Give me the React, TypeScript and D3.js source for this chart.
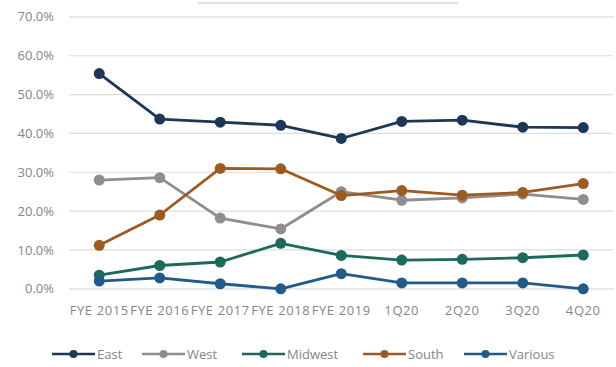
import React from "react";
import * as d3 from "d3";

// Periods on the x axis
const categories = [
  "FYE 2015",
  "FYE 2016",
  "FYE 2017",
  "FYE 2018",
  "FYE 2019",
  "1Q20",
  "2Q20",
  "3Q20",
  "4Q20",
];

// Share by region, in percent
const east = [55.4, 43.7, 42.9, 42.1, 38.7, 43.1, 43.4, 41.6, 41.5];
const west = [28.0, 28.6, 18.2, 15.4, 25.0, 22.8, 23.4, 24.4, 23.0];
const midwest = [3.5, 6.0, 6.9, 11.7, 8.6, 7.4, 7.6, 8.0, 8.7];
const south = [11.2, 19.0, 31.0, 30.9, 24.0, 25.3, 24.1, 24.8, 27.1];
const various = [2.0, 2.8, 1.3, 0.0, 3.9, 1.5, 1.5, 1.5, 0.0];

const yTicks = [0, 10, 20, 30, 40, 50, 60, 70];

const seriesNames = ["East", "West", "Midwest", "South", "Various"];
const seriesValues = [east, west, midwest, south, various];
const seriesColors = ["#1c3856", "#8e8e8e", "#1b6a5c", "#9e5b20", "#215b8c"];

const W = 616;
const H = 367;
const FONT = "'Open Sans', 'Liberation Sans', sans-serif";
const TEXT = "#858585";

export default function App() {
  const x = d3.scaleBand<string>().domain(categories).range([69, 613.5]);
  const y = d3.scaleLinear().domain([0, 70]).range([288.8, 16.9]);
  const cx = (c: string) => (x(c) ?? 0) + x.bandwidth() / 2;

  const line = d3
    .line<number>()
    .x((_, i) => cx(categories[i]))
    .y((v) => y(v));

  const legendStarts = [52, 142, 242, 363, 464];
  const legendY = 354;

  return (
    <svg
      width={W}
      height={H}
      style={{ position: "absolute", left: 0, top: 0, background: "#fff" }}
      fontFamily={FONT}
    >
      {/* title bar */}
      <line x1={198} x2={458} y1={3} y2={3} stroke="#e3e3e3" strokeWidth={2} />

      {/* gridlines and y labels */}
      {yTicks.map((t) => (
        <g key={t}>
          <line
            x1={69}
            x2={613.5}
            y1={y(t)}
            y2={y(t)}
            stroke="#dedede"
            strokeWidth={1.2}
          />
          <text
            x={54}
            y={y(t)}
            dy="0.35em"
            textAnchor="end"
            fontSize={13}
            fill={TEXT}
          >
            {t.toFixed(1)}%
          </text>
        </g>
      ))}

      {/* x labels */}
      {categories.map((c) => (
        <text
          key={c}
          x={cx(c)}
          y={315}
          textAnchor="middle"
          fontSize={13}
          letterSpacing={0.6}
          fill={TEXT}
        >
          {c}
        </text>
      ))}

      {/* series */}
      {seriesValues.map((vals, si) => (
        <g key={seriesNames[si]}>
          <path
            d={line(vals) ?? ""}
            fill="none"
            stroke={seriesColors[si]}
            strokeWidth={2.8}
            strokeLinejoin="round"
          />
          {vals.map((v, i) => (
            <circle
              key={i}
              cx={cx(categories[i])}
              cy={y(v)}
              r={5.5}
              fill={seriesColors[si]}
            />
          ))}
        </g>
      ))}

      {/* legend */}
      {seriesNames.map((name, i) => {
        const x0 = legendStarts[i];
        return (
          <g key={name}>
            <line
              x1={x0}
              x2={x0 + 43}
              y1={legendY}
              y2={legendY}
              stroke={seriesColors[i]}
              strokeWidth={2.6}
            />
            <circle cx={x0 + 21.5} cy={legendY} r={4} fill={seriesColors[i]} />
            <text
              x={x0 + 45}
              y={legendY}
              dy="0.35em"
              fontSize={13}
              fill={TEXT}
            >
              {name}
            </text>
          </g>
        );
      })}
    </svg>
  );
}
